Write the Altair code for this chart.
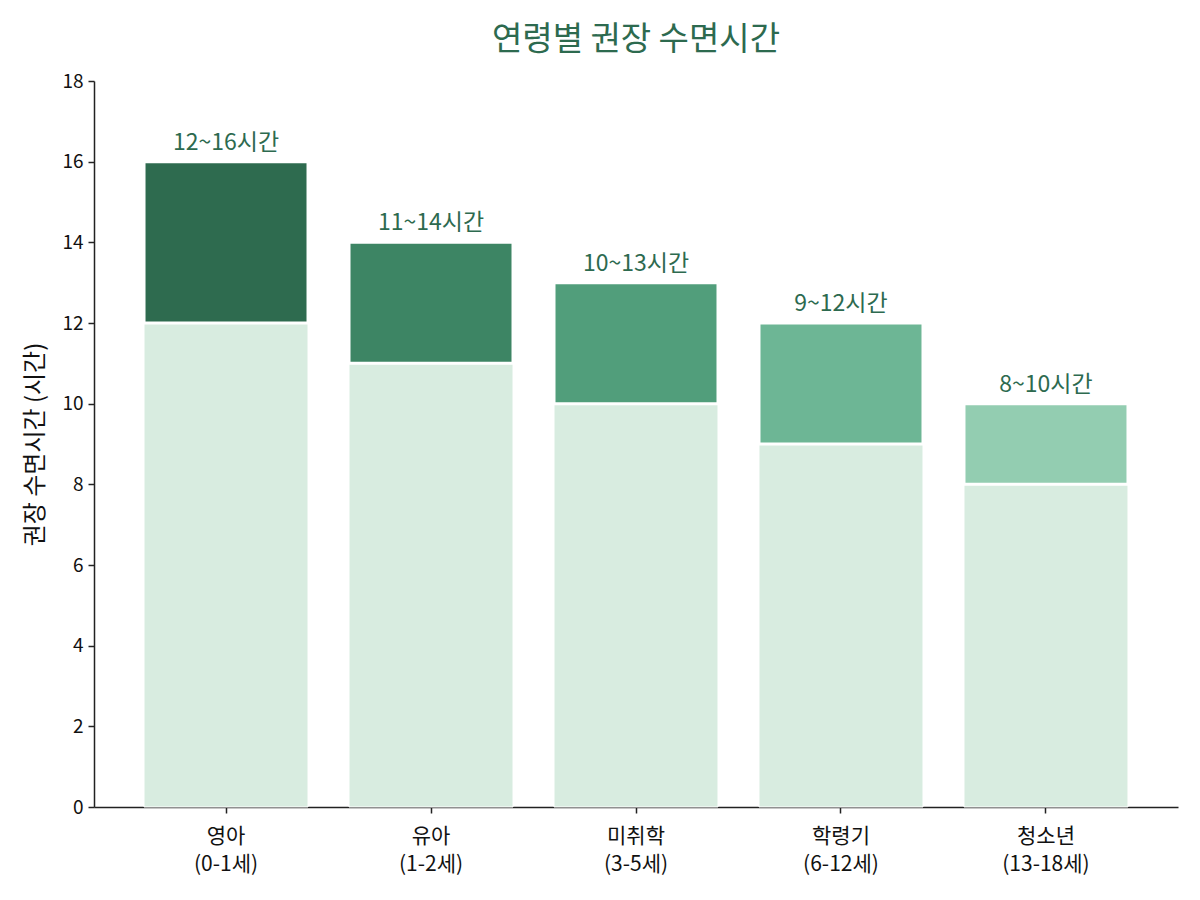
import altair as alt
import pandas as pd

categories = ["영아\n(0-1세)", "유아\n(1-2세)", "미취학\n(3-5세)", "학령기\n(6-12세)", "청소년\n(13-18세)"]
min_hours = [12, 11, 10, 9, 8]
max_hours = [16, 14, 13, 12, 10]
top_colors = ["#2e6b4f", "#3d8564", "#519e7b", "#6db695", "#93cdb1"]
base_color = "#d8ece0"
text_color = "#2d6a4f"
FONT = "Noto Sans CJK KR"

df = pd.DataFrame({
    "cat": categories,
    "lo": min_hours,
    "hi": max_hours,
    "label": [f"{a}~{b}시간" for a, b in zip(min_hours, max_hours)],
})

x = alt.X(
    "cat:N",
    sort=categories,
    scale=alt.Scale(paddingInner=0.2, paddingOuter=0.244),
    axis=alt.Axis(
        title=None,
        labelAngle=0,
        labelExpr="split(datum.label, '\\n')",
        labelFontSize=21,
        labelLineHeight=28,
        labelColor="#111111",
        labelPadding=12,
        tickSize=6,
        tickColor="#222222",
        domainColor="#222222",
        domainWidth=1.5,
        tickWidth=1.5,
    ),
)

y_axis = alt.Axis(
    title="권장 수면시간 (시간)",
    titleFontSize=24,
    titleFontWeight="normal",
    titleColor="#111111",
    titlePadding=14,
    values=list(range(0, 19, 2)),
    labelFontSize=19,
    labelColor="#111111",
    labelPadding=5,
    tickSize=6,
    tickColor="#222222",
    domainColor="#222222",
    domainWidth=1.5,
    tickWidth=1.5,
    grid=False,
)

base = alt.Chart(df)

bottom = base.mark_bar(color=base_color, stroke="white", strokeWidth=1).encode(
    x=x,
    y=alt.Y("lo:Q", scale=alt.Scale(domain=[0, 18], nice=False), axis=y_axis),
)

top = base.mark_bar(stroke="white", strokeWidth=3).encode(
    x=x,
    y=alt.Y("lo:Q"),
    y2="hi:Q",
    color=alt.Color("cat:N", sort=categories,
                    scale=alt.Scale(domain=categories, range=top_colors), legend=None),
)

labels = base.mark_text(
    font=FONT, fontSize=23, color=text_color, baseline="alphabetic", dy=-12
).encode(
    x=x,
    y=alt.Y("hi:Q"),
    text="label:N",
)

chart = (
    alt.layer(bottom, top, labels)
    .properties(
        width=1084,
        height=726,
        title=alt.TitleParams(
            "연령별 권장 수면시간",
            fontSize=33,
            font=FONT,
            fontWeight="normal",
            color=text_color,
            anchor="middle",
            offset=15,
        ),
        autosize=alt.AutoSizeParams(type="none"),
        padding={"left": 86, "top": 73, "right": 14, "bottom": 85},
    )
    .configure(font=FONT)
    .configure_view(stroke=None)
    .configure_axis(labelFont=FONT, titleFont=FONT)
)

chart.save("out.html", embed_options={"renderer": "svg", "actions": False})
